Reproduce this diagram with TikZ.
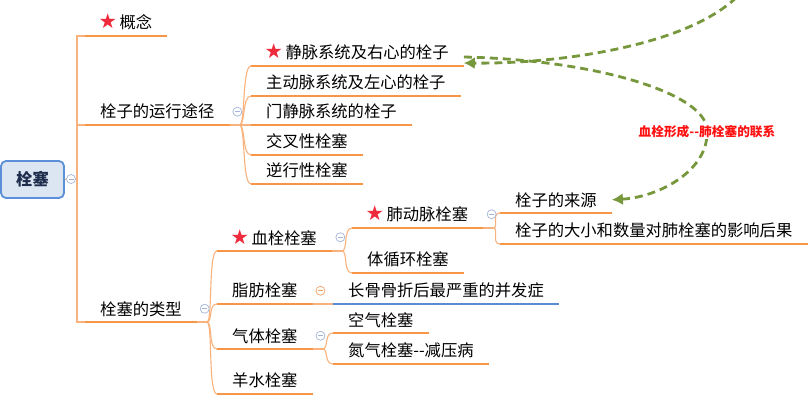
\documentclass[tikz,border=0pt]{standalone}
\usepackage{fontspec}
\setmainfont{Noto Sans CJK SC}
\newfontfamily\starfont{DejaVu Sans}
\usetikzlibrary{calc,positioning,arrows.meta,shapes.geometric}

\definecolor{topicline}{HTML}{F79646}
\definecolor{linkline}{HTML}{F9B27C}
\definecolor{bluelink}{HTML}{5B8BD0}
\definecolor{rootfill}{HTML}{DCE6F2}
\definecolor{rootdraw}{HTML}{5B8FD8}
\definecolor{roottext}{HTML}{1F2D4D}
\definecolor{foldblue}{HTML}{A3B4D8}
\definecolor{foldorange}{HTML}{F5A066}
\definecolor{relgreen}{HTML}{77973D}
\definecolor{relred}{HTML}{FF1010}
\definecolor{starred}{HTML}{EE2A3C}

\newcommand\redstar{\hspace{-1.5pt}{\starfont\fontsize{20.5}{20}\selectfont\textcolor{starred}{★}}\hspace{2.5pt}}

\tikzset{
  topic/.style={anchor=south west, inner xsep=15pt, inner ysep=5.5pt,
    font=\fontsize{16.3}{18}\selectfont},
  rootbox/.style={draw=rootdraw, fill=rootfill, line width=1.8pt, rounded corners=5pt,
    minimum width=63pt, minimum height=37pt, text=roottext,
    font=\bfseries\fontsize{16.3}{18}\selectfont},
  uline/.style={line width=2.8pt, draw=topicline},
  link/.style={line width=1.1pt, draw=linkline},
  stub/.style={line width=1.6pt, draw=linkline},
  fold/.style={circle, draw=#1, fill=white, line width=0.7pt, minimum size=9pt, inner sep=0pt,
    path picture={\draw[#1, line width=0.7pt] ([xshift=2pt]path picture bounding box.west)
      -- ([xshift=-2pt]path picture bounding box.east);}},
  fold/.default=foldblue,
  branch/.style={to path={.. controls +(6,0) and +(-9,0) .. (\tikztotarget)}},
  relate/.style={draw=relgreen, line width=2.8pt, dash pattern=on 8pt off 5pt,
    -{Latex[length=11pt,width=12pt]}},
  rellabel/.style={fill=white, inner sep=1pt, text=relred,
    font=\bfseries\fontsize{12.7}{14}\selectfont},
}

\begin{document}
\begin{tikzpicture}[x=1pt,y=-1pt]
  \useasboundingbox (0,0) rectangle (810,402);

  % root and first level
  \node[rootbox] (shuansai) at (32.5,179.5) {栓塞};
  \node[topic] (gainian) at (85,36) {\redstar 概念};
  \node[topic] (tujing) at (85,125) {栓子的运行途径};
  \node[topic] (leixing) at (85,322) {栓塞的类型};

  % routes
  \node[topic] (jingmai) at (251,66) {\redstar 静脉系统及右心的栓子};
  \foreach \nm/\yy/\txt in {zhudongmai/96/主动脉系统及左心的栓子,
      menjingmai/125/门静脉系统的栓子, jiaocha/155/交叉性栓塞, nixing/184/逆行性栓塞}
    \node[topic] (\nm) at (251,\yy) {\txt};

  % types
  \node[topic] (xueshuan) at (217,251) {\redstar 血栓栓塞};
  \foreach \nm/\yy/\txt in {zhifang/304/脂肪栓塞, qiti/349/气体栓塞, yangshui/394/羊水栓塞}
    \node[topic] (\nm) at (217,\yy) {\txt};

  \node[topic] (feidongmai) at (352,228) {\redstar 肺动脉栓塞};
  \node[topic] (tixunhuan) at (352,273) {体循环栓塞};
  \node[topic] (laiyuan) at (500,213) {栓子的来源};
  \node[topic] (houguo) at (500,244) {栓子的大小和数量对肺栓塞的影响后果};
  \node[topic] (bingfa) at (333,304) {长骨骨折后最严重的并发症};
  \node[topic] (kongqi) at (333,333) {空气栓塞};
  \node[topic] (danqi) at (333,364) {氮气栓塞-{}-减压病};

  % underlines
  \foreach \nm in {gainian,tujing,leixing,jingmai,zhudongmai,menjingmai,jiaocha,nixing,
      xueshuan,zhifang,qiti,yangshui,feidongmai,tixunhuan,laiyuan,houguo,kongqi,danqi}
    \draw[uline] (\nm.south west) -- (\nm.south east);
  \draw[uline,draw=bluelink] (bingfa.south west) -- (bingfa.south east);

  % connectors
  \coordinate (spine) at (77,179);
  \draw[link] (shuansai.east) -- (spine);
  \foreach \nm in {gainian,tujing,leixing}
    \draw[link] (spine) |- (\nm.south west);

  \coordinate (b1) at ($(tujing.south east)+(10,0)$);
  \draw[stub] (tujing.south east) -- (b1);
  \foreach \nm in {jingmai,zhudongmai,menjingmai,jiaocha,nixing}
    \draw[link] (b1) to[branch] (\nm.south west);

  \coordinate (b2) at ($(leixing.south east)+(10,0)$);
  \draw[stub] (leixing.south east) -- (b2);
  \foreach \nm in {xueshuan,zhifang,qiti,yangshui}
    \draw[link] (b2) to[branch] (\nm.south west);

  \coordinate (b3) at ($(xueshuan.south east)+(10,0)$);
  \draw[stub] (xueshuan.south east) -- (b3);
  \foreach \nm in {feidongmai,tixunhuan}
    \draw[link] (b3) to[branch] (\nm.south west);

  \coordinate (b4) at ($(feidongmai.south east)+(10,0)$);
  \draw[stub] (feidongmai.south east) -- (b4);
  \foreach \nm in {laiyuan,houguo}
    \draw[link] (b4) to[branch] (\nm.south west);

  \draw[stub] (zhifang.south east) -- (bingfa.south west);

  \coordinate (b6) at ($(qiti.south east)+(10,0)$);
  \draw[stub] (qiti.south east) -- (b6);
  \foreach \nm in {kongqi,danqi}
    \draw[link] (b6) to[branch] (\nm.south west);

  % fold markers
  \node[fold] (f0) at (71,179) {};
  \node[fold, right=3pt of tujing] (f1) {};
  \node[fold, right=3pt of leixing] (f2) {};
  \node[fold, right=3.5pt of xueshuan] (f3) {};
  \node[fold, right=3.5pt of feidongmai] (f4) {};
  \node[fold=foldorange, right=3pt of zhifang] (f5) {};
  \node[fold, right=3pt of qiti] (f6) {};

  % relations
  \coordinate (offtop) at (745,-12);
  \draw[relate] (offtop) .. controls (700,45) and (560,64) .. ([yshift=3pt]jingmai.south east);
  \draw[relate] ([yshift=9pt]jingmai.south east) .. controls (600,60) and (710,95) .. (707,132)
    node[rellabel] (lianxi) {血栓形成-{}-肺栓塞的联系}
    .. controls (708,170) and (660,197) .. (laiyuan.east);
\end{tikzpicture}
\end{document}
